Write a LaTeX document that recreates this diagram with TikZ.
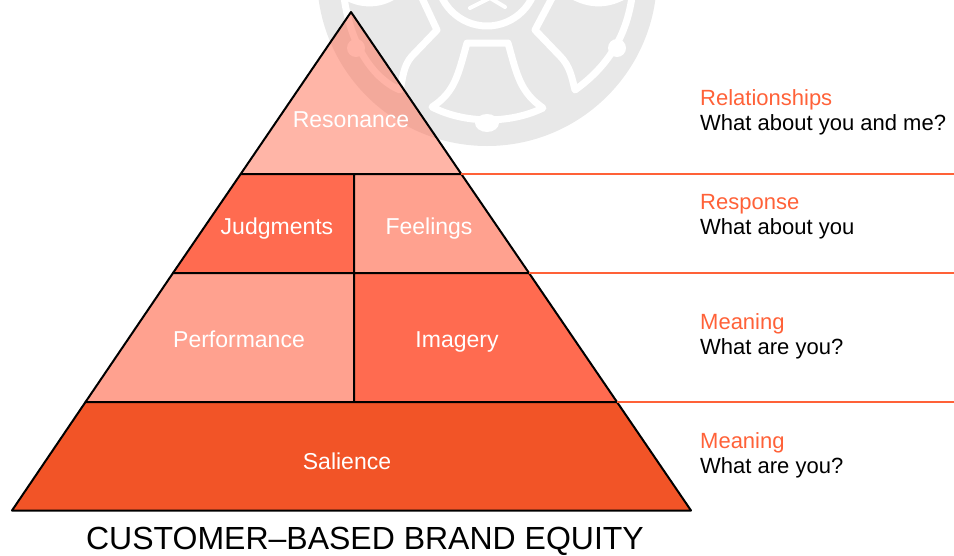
\documentclass[tikz,border=0pt]{standalone}
\usepackage{fontspec}
\setmainfont{Liberation Sans}
\definecolor{saliencered}{HTML}{F25427}
\definecolor{darkred}{HTML}{FF6B50}
\definecolor{lightred}{HTML}{FFA18F}
\definecolor{linered}{HTML}{FF6138}
\definecolor{markgray}{HTML}{E8E8E8}
\tikzset{
  block/.style = {draw = black, line width = 2pt, line join = round},
  blocktext/.style = {text = white, anchor = base, font = \fontsize{23}{27}\selectfont},
  sidetext/.style = {anchor = north west, align = left, inner sep = 0pt,
                     font = \fontsize{22}{25}\selectfont},
  sideline/.style = {draw = linered, line width = 2.6pt},
  bellline/.style = {draw = white, line width = 7pt, line cap = round, line join = round}
}
\begin{document}
\begin{tikzpicture}[x = 1pt, y = -1pt]
    \useasboundingbox (0, 0) rectangle (954, 555);

    % watermark
    \begin{scope}
        \clip (0, 0) rectangle (954, 555);
        \fill [markgray] (487, -24) circle (170);
        \draw [bellline] (487, -24) circle (50);
        \draw [bellline, line width = 4pt] (470, 8) -- (490, -2) -- (505, 7);
        \draw [bellline] (467, 43) -- (508, 43) .. controls (517, 75) and (520, 92) .. (543, 108)
              .. controls (510, 124) and (465, 124) .. (432, 107)
              .. controls (455, 92) and (458, 75) .. (467, 43) -- cycle;
        \fill [white] (487, 123) ellipse (12 and 9);
        \draw [bellline] (422, -2) -- (437, 30) -- (412, 56)
              .. controls (403, 66) and (403, 78) .. (400, 90)
              .. controls (380, 82) and (352, 55) .. (344, -3);
        \draw [bellline] (552, -2) -- (535, 30) -- (560, 56)
              .. controls (570, 66) and (572, 78) .. (575, 90)
              .. controls (600, 72) and (625, 45) .. (632, -3);
        \draw [bellline] (345, -4) .. controls (360, 5) and (378, 5) .. (392, -3);
        \draw [bellline] (573, -4) .. controls (590, 5) and (606, 5) .. (622, -3);
        \fill [white] (356, 48) circle (9);
        \fill [white] (617, 48) circle (9);
    \end{scope}

    % pyramid
    \coordinate (apex) at (351, 12);
    \coordinate (resL) at (240.7, 174);
    \coordinate (resR) at (461.3, 174);
    \coordinate (feeL) at (173, 273);
    \coordinate (feeR) at (529, 273);
    \coordinate (imaL) at (85.5, 402);
    \coordinate (imaR) at (617, 402);
    \coordinate (baseL) at (12, 510.5);
    \coordinate (baseR) at (691, 510.5);
    \coordinate (midA) at (354, 174);
    \coordinate (midB) at (354, 273);
    \coordinate (midC) at (354, 402);

    \fill [darkred, opacity = 0.5] (apex) -- (resR) -- (resL) -- cycle;
    \draw [block] (apex) -- (resR) -- (resL) -- cycle;
    \draw [block, fill = darkred] (resL) -- (midA) -- (midB) -- (feeL) -- cycle;
    \draw [block, fill = lightred] (midA) -- (resR) -- (feeR) -- (midB) -- cycle;
    \draw [block, fill = lightred] (feeL) -- (midB) -- (midC) -- (imaL) -- cycle;
    \draw [block, fill = darkred] (midB) -- (feeR) -- (imaR) -- (midC) -- cycle;
    \draw [block, fill = saliencered] (imaL) -- (imaR) -- (baseR) -- (baseL) -- cycle;

    \node [blocktext] (resonance) at (351, 127) {Resonance};
    \node [blocktext] (judgments) at (277, 234) {Judgments};
    \node [blocktext] (feelings) at (429, 234) {Feelings};
    \node [blocktext] (performance) at (239, 347) {Performance};
    \node [blocktext] (imagery) at (457, 347) {Imagery};
    \node [blocktext] (salience) at (347, 469) {Salience};

    % levels
    \coordinate (endA) at (954, 174);
    \coordinate (endB) at (954, 273);
    \coordinate (endC) at (954, 402);
    \draw [sideline] (resR) -- (endA);
    \draw [sideline] (feeR) -- (endB);
    \draw [sideline] (imaR) -- (endC);

    \node [sidetext] (relations) at (700, 89) {\textcolor{linered}{Relationships}\\What about you and me?};
    \node [sidetext] (response) at (700, 194) {\textcolor{linered}{Response}\\What about you};
    \node [sidetext] (meaningA) at (700, 313) {\textcolor{linered}{Meaning}\\What are you?};
    \node [sidetext] (meaningB) at (700, 432) {\textcolor{linered}{Meaning}\\What are you?};

    \node [font = \fontsize{32}{36}\selectfont] (title) at (365, 541) {CUSTOMER–BASED BRAND EQUITY};
\end{tikzpicture}
\end{document}
